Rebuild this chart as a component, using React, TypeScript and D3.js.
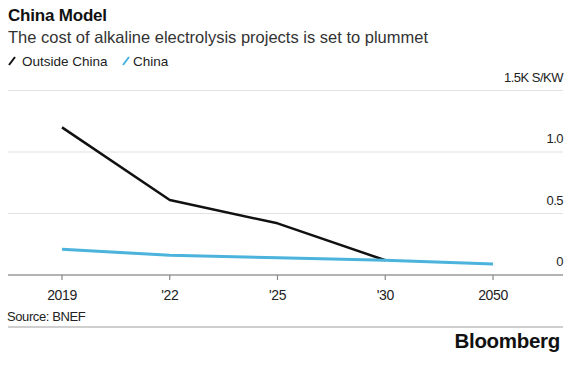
import React from "react";
import * as d3 from "d3";

const categories = ["2019", "'22", "'25", "'30", "2050"];
const outsideChina: (number | null)[] = [1.2, 0.61, 0.42, 0.12, null];
const china: number[] = [0.21, 0.16, 0.14, 0.12, 0.09];
const yTicks = [0, 0.5, 1.0, 1.5];
const yTickLabels = ["0", "0.5", "1.0", "1.5K S/KW"];

const W = 568;
const H = 378;
const FONT = "'Liberation Sans', Arial, Helvetica, sans-serif";
const BLACK = "#111";
const BLUE = "#4bb3dc";

export default function App() {
  const left = 8;
  const right = 563;
  const x = d3.scalePoint<string>().domain(categories).range([62, 493]);
  const y = d3.scaleLinear().domain([0, 1.5]).range([275, 90.5]);

  const line = d3
    .line<number | null>()
    .defined((d) => d !== null)
    .x((_, i) => x(categories[i]) as number)
    .y((d) => y(d as number));

  return (
    <svg
      width={W}
      height={H}
      style={{ position: "absolute", left: 0, top: 0, background: "#fff" }}
      fontFamily={FONT}
    >
      <rect x={0} y={0} width={W} height={H} fill="#fff" />
      <text x={8} y={21} fontSize={17} fontWeight="bold" fill="#111" letterSpacing={-0.2}>
        China Model
      </text>
      <text x={8} y={43} fontSize={16.5} fill="#333">
        The cost of alkaline electrolysis projects is set to plummet
      </text>

      {/* legend */}
      <g fontSize={13.5} fill="#222">
        <line x1={9} y1={65} x2={15} y2={57} stroke={BLACK} strokeWidth={2} />
        <text x={22} y={65.5}>Outside China</text>
        <line x1={123} y1={65} x2={129} y2={57} stroke={BLUE} strokeWidth={2} />
        <text x={133} y={65.5}>China</text>
      </g>

      {/* gridlines and value labels */}
      {yTicks.map((t, i) => (
        <g key={t}>
          {t !== 0 && (
            <line x1={left} x2={right} y1={y(t)} y2={y(t)} stroke="#e2e2e2" strokeWidth={1.2} />
          )}
          <text
            x={right}
            y={y(t) - 9}
            fontSize={13}
            textAnchor="end"
            fill="#222"
            letterSpacing={-0.5}
          >
            {yTickLabels[i]}
          </text>
        </g>
      ))}

      {/* axis */}
      <line x1={left} x2={right} y1={y(0)} y2={y(0)} stroke="#9a9a9a" strokeWidth={1.5} />
      {categories.map((c) => (
        <g key={c}>
          <line
            x1={x(c)}
            x2={x(c)}
            y1={y(0)}
            y2={y(0) + 5}
            stroke="#888"
            strokeWidth={1.2}
          />
          <text x={x(c)} y={299.5} fontSize={14} textAnchor="middle" fill="#222" letterSpacing={-0.4}>
            {c}
          </text>
        </g>
      ))}

      {/* series */}
      <path d={line(outsideChina) || ""} fill="none" stroke={BLACK} strokeWidth={2.5} strokeLinejoin="round" />
      <path d={line(china) || ""} fill="none" stroke={BLUE} strokeWidth={3} strokeLinejoin="round" />

      <text x={7} y={321} fontSize={13} fill="#222" letterSpacing={-0.4}>
        Source: BNEF
      </text>
      <line x1={left} x2={right} y1={327} y2={327} stroke="#cfcfcf" strokeWidth={2} />
      <text x={560} y={348} fontSize={20.5} fontWeight="bold" textAnchor="end" fill="#111" letterSpacing={-0.3}>
        Bloomberg
      </text>
    </svg>
  );
}
